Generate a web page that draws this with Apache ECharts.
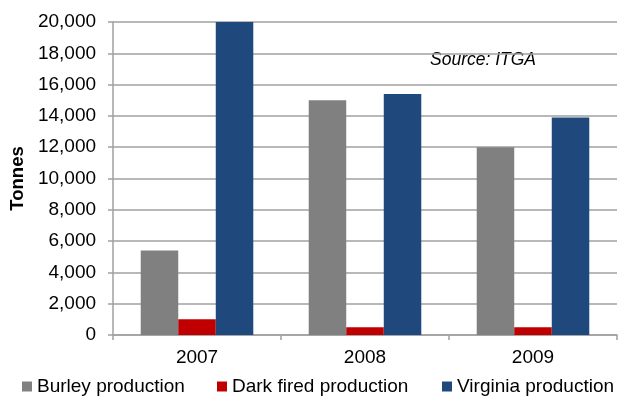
<!DOCTYPE html>
<html>
<head>
<meta charset="utf-8">
<script src="https://cdn.jsdelivr.net/npm/echarts@6/dist/echarts.min.js"></script>
<style>
  html, body { margin: 0; padding: 0; background: #fff; }
  #chart { width: 625px; height: 397px; }
</style>
</head>
<body>
<div id="chart"></div>
<script>
// Tobacco production by type, in tonnes
const years = ['2007', '2008', '2009'];
const burley = [5400, 15000, 12000];
const darkFired = [1000, 500, 500];
const virginia = [20000, 15400, 13900];
const seriesNames = ['Burley production', 'Dark fired production', 'Virginia production'];
const seriesColors = ['#808080', '#c00000', '#1f497d'];

const FONT = 'Liberation Sans, Arial, sans-serif';
const chart = echarts.init(document.getElementById('chart'));

const legendLefts = [22, 217, 442];

chart.setOption({
  animation: false,
  textStyle: { fontFamily: FONT },
  grid: { left: 110, right: 8, top: 22, bottom: 62 },
  legend: seriesNames.map((name, i) => ({
    data: [name],
    left: legendLefts[i],
    top: 377,
    icon: 'rect',
    itemWidth: 10,
    itemHeight: 10,
    itemGap: 5,
    padding: 0,
    textStyle: { fontSize: 19, color: '#000', fontFamily: FONT }
  })),
  xAxis: {
    type: 'category',
    data: years,
    boundaryGap: true,
    axisLine: { lineStyle: { color: '#a0a0a0', width: 1.5 } },
    axisTick: { show: true, length: 5, lineStyle: { color: '#a0a0a0', width: 1.5 } },
    axisLabel: { fontSize: 19, color: '#000', margin: 13 }
  },
  yAxis: {
    type: 'value',
    min: 0,
    max: 20000,
    interval: 2000,
    name: 'Tonnes',
    nameLocation: 'middle',
    nameGap: 84,
    nameTextStyle: { fontSize: 18.5, fontWeight: 'bold', color: '#000' },
    axisLine: { show: true, lineStyle: { color: '#a0a0a0', width: 1.5 } },
    axisTick: { show: true, length: 5, lineStyle: { color: '#a0a0a0', width: 1.5 } },
    splitLine: { lineStyle: { color: '#a0a0a0', width: 1.5 } },
    axisLabel: {
      fontSize: 19,
      color: '#000',
      margin: 17,
      formatter: v => v.toLocaleString('en-US')
    }
  },
  graphic: [{
    type: 'text',
    left: 430,
    top: 51,
    style: {
      text: 'Source: ITGA',
      font: 'italic 17.5px ' + FONT,
      fill: '#000'
    }
  }],
  series: [burley, darkFired, virginia].map((values, i) => ({
    name: seriesNames[i],
    type: 'bar',
    data: values,
    barGap: '0%',
    barCategoryGap: '33%',
    itemStyle: { color: seriesColors[i] }
  }))
});
</script>
</body>
</html>
